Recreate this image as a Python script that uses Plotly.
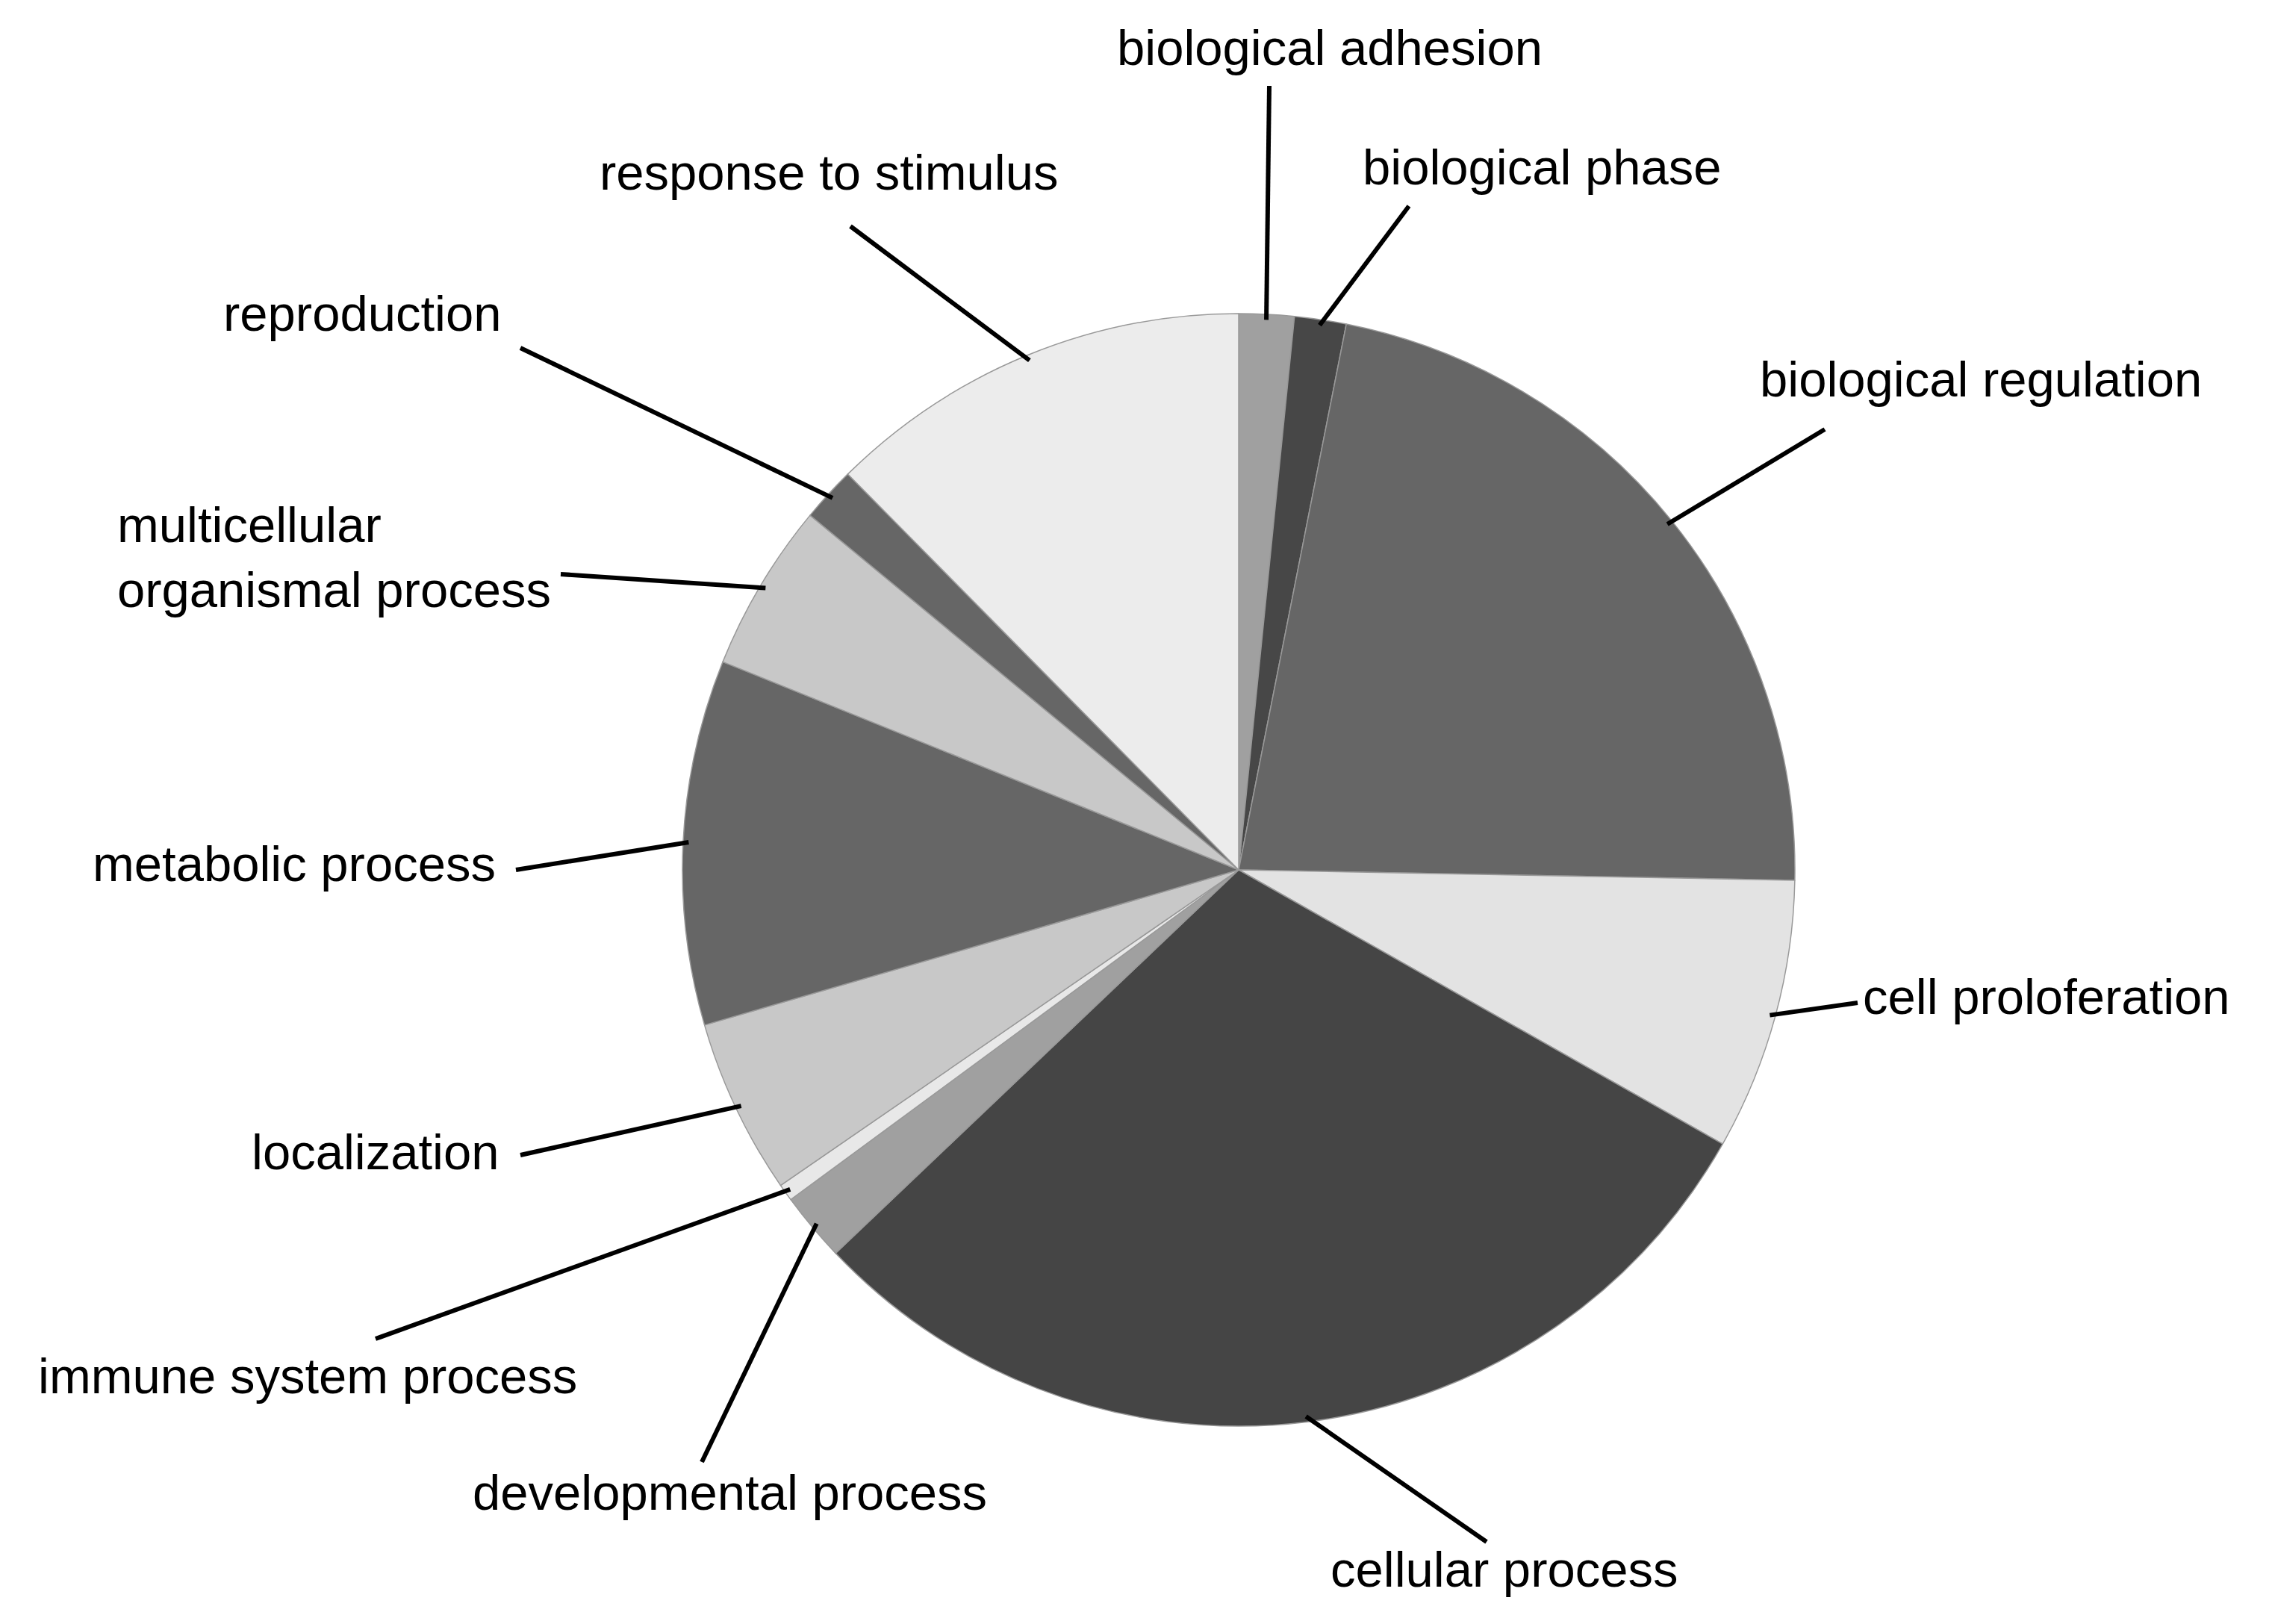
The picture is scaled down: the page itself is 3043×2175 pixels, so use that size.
import math
import plotly.graph_objects as go

# ---- data ----
categories = [
    "biological adhesion", "biological phase", "biological regulation",
    "cell proloferation", "cellular process", "developmental process",
    "immune system process", "localization", "metabolic process",
    "multicellular organismal process", "reproduction", "response to stimulus",
]
label_text = [
    "biological adhesion", "biological phase", "biological regulation",
    "cell proloferation", "cellular process", "developmental process",
    "immune system process", "localization", "metabolic process",
    "multicellular<br>organismal process", "reproduction", "response to stimulus",
]
values = [1.6, 1.5, 22.2, 7.9, 29.7, 2.0, 0.5, 5.1, 10.6, 4.9, 1.6, 12.4]

# ---- styles / layout ----
colors = ["#a0a0a0", "#474747", "#666666", "#e3e3e3", "#454545", "#a0a0a0",
          "#e8e8e8", "#c8c8c8", "#666666", "#c8c8c8", "#666666", "#ececec"]

W, H = 3043, 2175
CX, CY, R = 1651, 1157, 745
# label centre positions (pixels from top-left)
label_pos = [
    (1773, 55), (2057, 216), (2645, 499), (2733, 1326), (2007, 2093),
    (970, 1990), (404, 1835), (495, 1534), (386, 1148), (439, 738),
    (477, 412), (1102, 222),
]
label_align = ["center"] * 9 + ["left"] + ["center"] * 2
# leader line start points (pixels from top-left), near each label
leader_start = [
    (1692, 107), (1879, 268), (2436, 567), (2480, 1335), (1983, 2057),
    (932, 1950), (495, 1785), (689, 1539), (683, 1157), (743, 761),
    (689, 458), (1131, 295),
]

fig = go.Figure()
fig.add_trace(go.Pie(
    labels=categories, values=values, sort=False, direction="clockwise",
    rotation=0, textinfo="none", hoverinfo="label+percent",
    marker=dict(colors=colors, line=dict(color="#999999", width=1.5)),
    domain=dict(x=[(CX - R) / W, (CX + R) / W],
                y=[1 - (CY + R) / H, 1 - (CY - R) / H]),
    showlegend=False,
))

total = sum(values)
cum = 0.0
annotations = []
shapes = []
for i, v in enumerate(values):
    mid = (cum + v / 2) / total * 2 * math.pi
    cum += v
    px = CX + 0.99 * R * math.sin(mid)
    py = CY - 0.99 * R * math.cos(mid)
    sx, sy = leader_start[i]
    shapes.append(dict(
        type="line", xref="paper", yref="paper",
        x0=sx / W, y0=1 - sy / H, x1=px / W, y1=1 - py / H,
        line=dict(color="black", width=6),
    ))
    lx, ly = label_pos[i]
    annotations.append(dict(
        x=lx / W, y=1 - ly / H, xref="paper", yref="paper",
        xanchor="center", yanchor="middle",
        text=label_text[i], align=label_align[i], showarrow=False,
        font=dict(family="Liberation Sans, Arial, sans-serif", size=67, color="black"),
    ))

fig.update_layout(
    width=W, height=H, margin=dict(l=0, r=0, t=0, b=0),
    paper_bgcolor="white", plot_bgcolor="white",
    annotations=annotations, shapes=shapes,
)

fig.write_html("out.html")
